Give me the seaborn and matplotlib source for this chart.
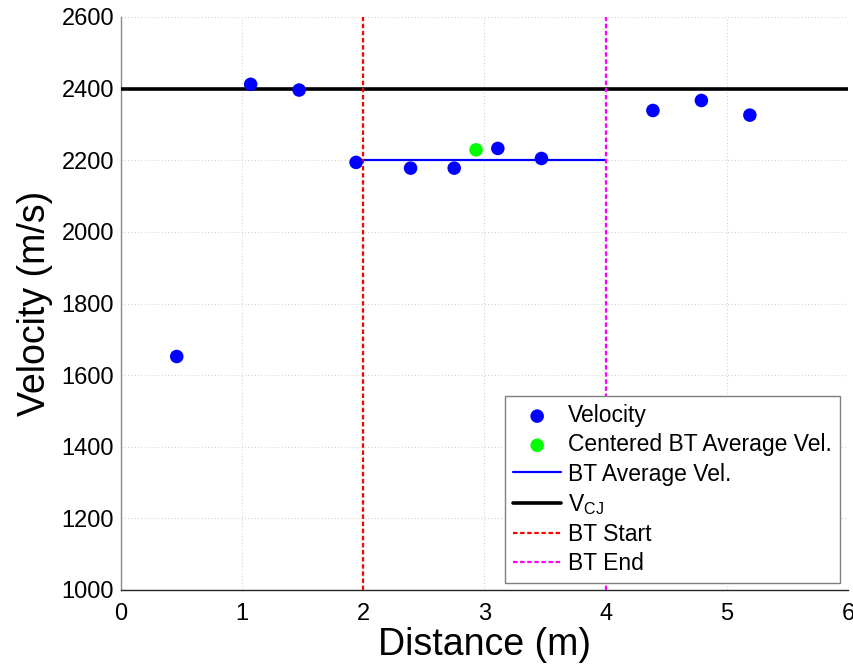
import matplotlib
matplotlib.use("Agg")
import matplotlib.pyplot as plt
import seaborn as sns
import pandas as pd

# ---- data ----
distance = [0.46, 1.07, 1.47, 1.94, 2.39, 2.75, 3.11, 3.47, 4.39, 4.79, 5.19]
velocity = [1652, 2412, 2396, 2194, 2178, 2178, 2233, 2205, 2339, 2367, 2326]
centered_dist = [2.93]
centered_vel = [2229]
bt_avg_x = [2, 4]
bt_avg_vel = [2200, 2200]
v_cj = 2400
bt_start = 2
bt_end = 4
x_ticks = [0, 1, 2, 3, 4, 5, 6]
y_ticks = [1000, 1200, 1400, 1600, 1800, 2000, 2200, 2400, 2600]

sns.set_style("white")
plt.rcParams['font.family'] = ['Liberation Sans', 'DejaVu Sans']
plt.rcParams['mathtext.fontset'] = 'custom'
plt.rcParams['mathtext.rm'] = 'Liberation Sans'
plt.rcParams['mathtext.it'] = 'Liberation Sans'
plt.rcParams['text.color'] = 'black'
plt.rcParams['axes.labelcolor'] = 'black'

fig = plt.figure(figsize=(8.54, 6.66), dpi=100)
ax = fig.add_axes([121/854, 1 - 590/666, (848-121)/854, (590-17)/666])

df = pd.DataFrame({"Distance": distance, "Velocity": velocity})
dfc = pd.DataFrame({"Distance": centered_dist, "Velocity": centered_vel})
dfa = pd.DataFrame({"Distance": bt_avg_x, "Velocity": bt_avg_vel})

sns.scatterplot(data=df, x="Distance", y="Velocity", ax=ax, color="#0000ff",
                s=95, edgecolor="none", label="Velocity", zorder=5)
sns.scatterplot(data=dfc, x="Distance", y="Velocity", ax=ax, color="#00ff00",
                s=95, edgecolor="none", label="Centered BT Average Vel.", zorder=5)
sns.lineplot(data=dfa, x="Distance", y="Velocity", ax=ax, color="#0000ff",
             linewidth=1.6, label="BT Average Vel.", zorder=4)
ax.axhline(v_cj, color="black", linewidth=2.6, label=r"V$_{\rm CJ}$", zorder=4)
ax.axvline(bt_start, color="#ff0000", linewidth=1.6, linestyle=(0, (2, 1.2)),
           label="BT Start", zorder=4)
ax.axvline(bt_end, color="#ff00ff", linewidth=1.6, linestyle=(0, (2, 1.2)),
           label="BT End", zorder=4)

ax.set_xlim(0, 6)
ax.set_ylim(1000, 2600)
ax.set_xticks(x_ticks)
ax.set_yticks(y_ticks)
ax.set_xticklabels([str(t) for t in x_ticks])
ax.set_yticklabels([str(t) for t in y_ticks])

ax.grid(True, color="#d4d4d4", linestyle=(0, (1, 2)), linewidth=0.8, zorder=0)
ax.set_axisbelow(True)

for s in ["top", "right"]:
    ax.spines[s].set_visible(False)
ax.spines["left"].set_color("#8a8a8a")
ax.spines["bottom"].set_color("#262626")
ax.spines["left"].set_linewidth(1.0)
ax.spines["bottom"].set_linewidth(1.0)

ax.tick_params(axis="both", direction="in", length=4.5, width=0.8, labelsize=17)
ax.tick_params(axis="y", colors="#8a8a8a", labelcolor="black", pad=5)
ax.tick_params(axis="x", colors="#262626", labelcolor="black", pad=9)

ax.set_xlabel("Distance (m)", fontsize=27, labelpad=2, color="black")
ax.set_ylabel("Velocity (m/s)", fontsize=27, labelpad=6, color="black")

leg = ax.legend(loc="lower right", bbox_to_anchor=(840/854, 83/666),
                bbox_transform=fig.transFigure, borderaxespad=0,
                fontsize=16.5, frameon=True, fancybox=False, framealpha=1,
                edgecolor="#7f7f7f", handlelength=2.1, handletextpad=0.3,
                labelspacing=0.27, borderpad=0.35, markerscale=1.0)
leg.get_frame().set_linewidth(1.0)
for t in leg.get_texts():
    t.set_color("black")

fig.savefig("out.png", dpi=100, facecolor="white")
